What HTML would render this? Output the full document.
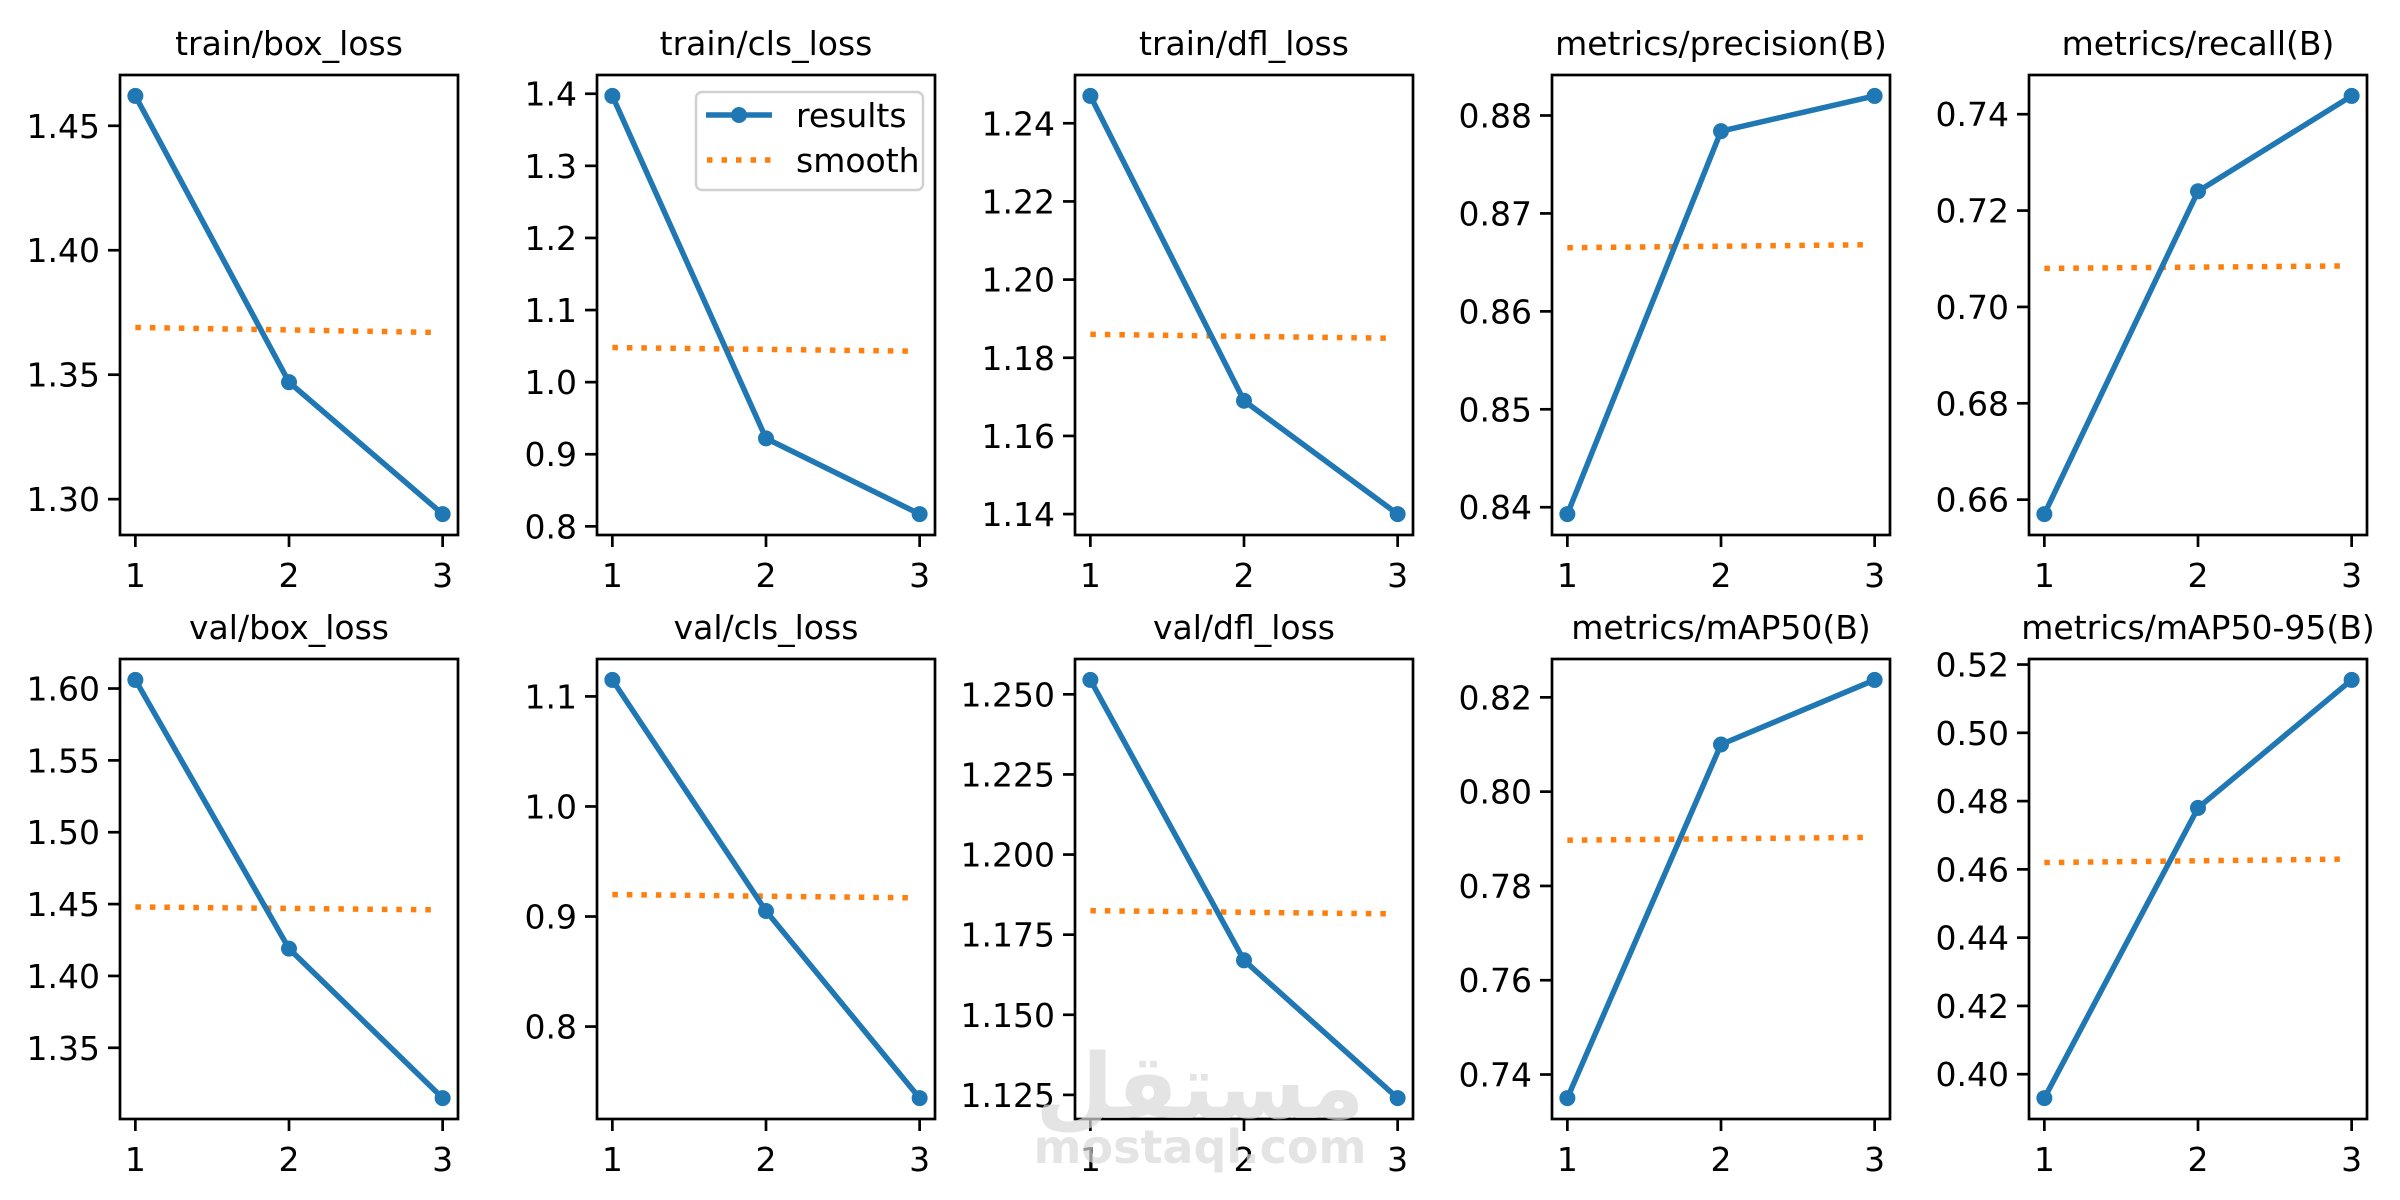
<!DOCTYPE html>
<html><head><meta charset="utf-8"><style>
html,body{margin:0;padding:0;background:#fff;}
svg{display:block;font-family:"DejaVu Sans","Liberation Sans",sans-serif;}
</style></head><body>
<svg id="fig" width="2400" height="1200" viewBox="0 0 2400 1200" xmlns="http://www.w3.org/2000/svg">
<rect width="2400" height="1200" fill="#fff"/>
<g id="plots"></g>
<g fill="#d9d9d9" opacity="0.7">
<text x="1200" y="1118" text-anchor="middle" font-size="90" font-weight="bold" font-family="DejaVu Sans, sans-serif">مستقل</text>
<text x="1200" y="1163" text-anchor="middle" font-size="46" font-weight="bold">mostaql.com</text>
</g>
</svg>
<script>
const titles = ["train/box_loss","train/cls_loss","train/dfl_loss","metrics/precision(B)","metrics/recall(B)","val/box_loss","val/cls_loss","val/dfl_loss","metrics/mAP50(B)","metrics/mAP50-95(B)"];
const epochs = [1,2,3];
const results = [
 [1.462,1.347,1.294],
 [1.397,0.922,0.817],
 [1.247,1.169,1.140],
 [0.8393,0.8784,0.8820],
 [0.657,0.724,0.7438],
 [1.606,1.419,1.315],
 [1.115,0.905,0.735],
 [1.2545,1.167,1.124],
 [0.735,0.810,0.8237],
 [0.393,0.478,0.5155]
];
const smoothStart = [1.369,1.048,1.186,0.8665,0.708,1.448,0.920,1.1825,0.7897,0.462];
const smoothEnd   = [1.367,1.043,1.185,0.8668,0.7085,1.446,0.917,1.1815,0.7903,0.463];
const yTicks = [
 ["1.30","1.35","1.40","1.45"],
 ["0.8","0.9","1.0","1.1","1.2","1.3","1.4"],
 ["1.14","1.16","1.18","1.20","1.22","1.24"],
 ["0.84","0.85","0.86","0.87","0.88"],
 ["0.66","0.68","0.70","0.72","0.74"],
 ["1.35","1.40","1.45","1.50","1.55","1.60"],
 ["0.8","0.9","1.0","1.1"],
 ["1.125","1.150","1.175","1.200","1.225","1.250"],
 ["0.74","0.76","0.78","0.80","0.82"],
 ["0.40","0.42","0.44","0.46","0.48","0.50","0.52"]
];
const xTicks = ["1","2","3"];

const NS="http://www.w3.org/2000/svg";
const root=document.getElementById('plots');
function mk(tag,attrs,parent){const e=document.createElementNS(NS,tag);for(const k in attrs)e.setAttribute(k,attrs[k]);(parent||root).appendChild(e);return e;}
const lefts=[120,597,1075,1552,2029], tops=[75,659], W=338, H=460;
const slug=t=>t.toLowerCase().replace(/[^a-z0-9]+/g,'-').replace(/^-|-$/g,'');
for(let i=0;i<10;i++){
 const L=lefts[i%5], T=tops[Math.floor(i/5)];
 const g=mk('g',{});
 
 
 const vals=results[i];
 let mn=Math.min(...vals), mx=Math.max(...vals); const sp=mx-mn;
 const y0=mn-0.05*sp, y1=mx+0.05*sp;
 const xs=v=>L+(v-0.9)/2.2*W;
 const ys=v=>T+(y1-v)/(y1-y0)*H;
 const tt=mk('text',{x:L+W/2,y:T-20,'text-anchor':'middle','font-size':33,fill:'#000'},g);
 tt.textContent=titles[i];
 
 
 yTicks[i].forEach(s=>{const v=parseFloat(s);const y=ys(v);
  const tk=mk('line',{x1:L-12,x2:L,y1:y,y2:y,stroke:'#000','stroke-width':2.7},g);
  
  
  const tl=mk('text',{x:L-20,y:y+12,'text-anchor':'end','font-size':33,fill:'#000'},g);
  tl.textContent=s;
  
  
 });
 xTicks.forEach(s=>{const x=xs(parseFloat(s));
  const tk=mk('line',{x1:x,x2:x,y1:T+H,y2:T+H+12,stroke:'#000','stroke-width':2.7},g);
  
  
  const tl=mk('text',{x:x,y:T+H+52,'text-anchor':'middle','font-size':33,fill:'#000'},g);
  tl.textContent=s;
  
  
 });
 const sm=mk('line',{x1:xs(1),y1:ys(smoothStart[i]),x2:xs(2.95),y2:ys(smoothEnd[i]),stroke:'#ff7f0e','stroke-width':5.5,'stroke-dasharray':'5.5 9'},g);
 
 
 const pts=epochs.map((e,k)=>xs(e)+','+ys(vals[k])).join(' ');
 const pl=mk('polyline',{points:pts,fill:'none',stroke:'#1f77b4','stroke-width':5.5,'stroke-linejoin':'round'},g);
 
 
 epochs.forEach((e,k)=>{
  const c=mk('circle',{cx:xs(e),cy:ys(vals[k]),r:8,fill:'#1f77b4'},g);
  
  
 });
 const fr=mk('rect',{x:L,y:T,width:W,height:H,fill:'none',stroke:'#000','stroke-width':2.7},g);
 
 
}
const lg=mk('g',{});


mk('rect',{x:696,y:92,width:227,height:98,rx:6,fill:'#fff','fill-opacity':0.8,stroke:'#d0d0d0','stroke-width':2.5},lg);
mk('line',{x1:706,x2:772,y1:115,y2:115,stroke:'#1f77b4','stroke-width':5.5},lg);
mk('circle',{cx:739,cy:115,r:8,fill:'#1f77b4'},lg);
const t1=mk('text',{x:796,y:127,'font-size':33},lg);t1.textContent='results';


mk('line',{x1:707,x2:772,y1:160,y2:160,stroke:'#ff7f0e','stroke-width':5.5,'stroke-dasharray':'5.5 9'},lg);
const t2=mk('text',{x:796,y:172,'font-size':33},lg);t2.textContent='smooth';


</script>
</body></html>
